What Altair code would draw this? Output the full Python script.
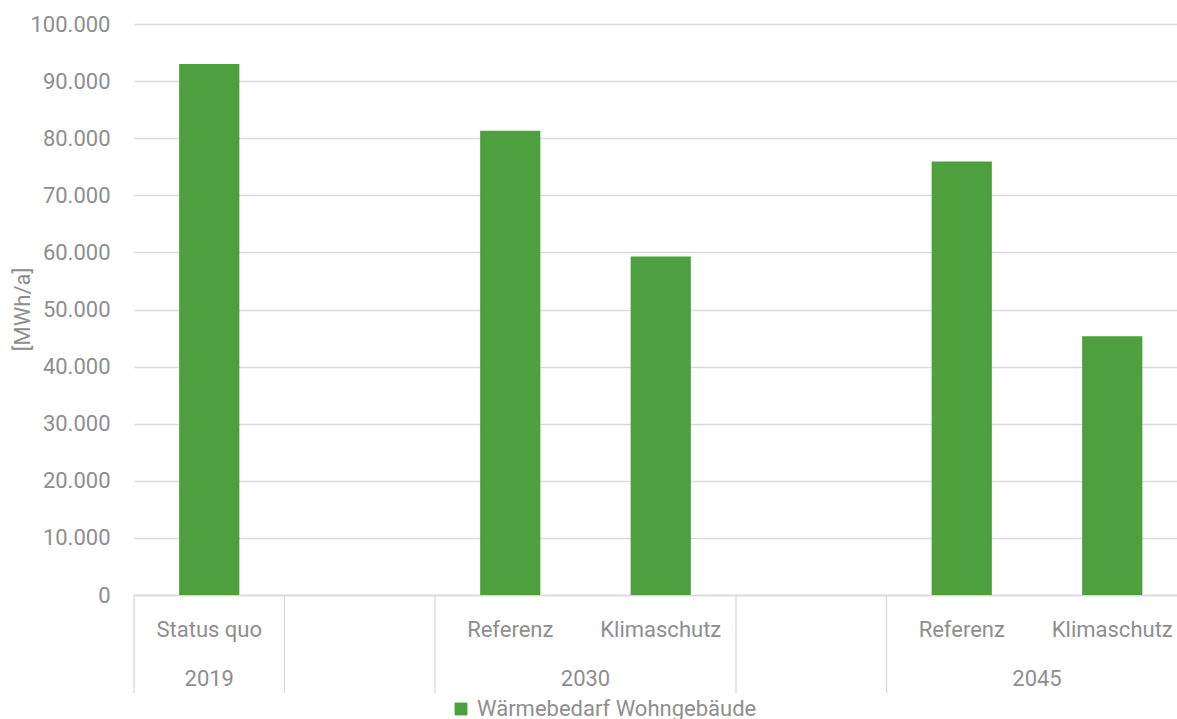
import altair as alt
import pandas as pd

# ---- data ----
categories = ["Status quo", "", "Referenz", "Klimaschutz", "", "Referenz", "Klimaschutz"]
years = ["2019", "", "2030", "2030", "", "2045", "2045"]
values = [93000, None, 81300, 59300, None, 75900, 45300]
series_name = "Wärmebedarf Wohngebäude"

# year groups: label, first slot index, number of slots
year_labels = ["2019", "2030", "2045"]
year_first_slot = [0, 2, 5]
year_span = [1, 2, 2]
group_start_slots = [0, 1, 2, 4, 5]

GREEN = "#4E9F3D"
GRAY_TEXT = "#8e8e8e"
GRID = "#d9d9d9"
FONT = "Roboto"
FS = 22

slots = [f"{i}|{c}" for i, c in enumerate(categories)]
df = pd.DataFrame({"slot": slots, "cat": categories, "year": years, "value": values,
                   "series": series_name})
bars_df = df.dropna(subset=["value"])
cat_df = df[df["cat"] != ""]

years_single = pd.DataFrame({"slot": [slots[s] for s, n in zip(year_first_slot, year_span) if n == 1],
                             "label": [l for l, n in zip(year_labels, year_span) if n == 1]})
years_double = pd.DataFrame({"slot": [slots[s] for s, n in zip(year_first_slot, year_span) if n == 2],
                             "label": [l for l, n in zip(year_labels, year_span) if n == 2]})
sep_df = pd.DataFrame({"slot": [slots[s] for s in group_start_slots]})

W, H = 1043, 571
xscale = alt.Scale(domain=slots, range=[0, 1053.5], paddingInner=0, paddingOuter=0)

xaxis = alt.Axis(title=None, labels=False, ticks=False,
                 domainColor=GRID, domainWidth=1.5, grid=False)
yaxis = alt.Axis(title="[MWh/a]", values=list(range(0, 100001, 10000)),
                 labelExpr="replace(format(datum.value, ','), ',', '.')",
                 ticks=False, domain=False, grid=True, gridColor=GRID, gridWidth=1.3,
                 labelColor=GRAY_TEXT, labelFont=FONT, labelFontSize=FS, labelPadding=24,
                 titleColor=GRAY_TEXT, titleFont=FONT, titleFontSize=FS, titleFontWeight="normal",
                 titleX=-112, titleY=285, titleAngle=270, titleAlign="center",
                 titleBaseline="middle")

bars = alt.Chart(bars_df).mark_bar(width=alt.RelativeBandSize(0.4), color=GREEN).encode(
    x=alt.X("slot:N", scale=xscale, axis=xaxis, sort=slots),
    y=alt.Y("value:Q", scale=alt.Scale(domain=[0, 100000], nice=False), axis=yaxis),
    color=alt.Color("series:N", scale=alt.Scale(domain=[series_name], range=[GREEN]),
                    legend=alt.Legend(title=None, orient="none", legendX=316, legendY=674,
                                      symbolType="square", symbolSize=165,
                                      symbolStrokeWidth=0, labelFont=FONT, labelFontSize=FS,
                                      labelColor=GRAY_TEXT, labelOffset=5, padding=0,
                                      labelLimit=500)),
)

seps = alt.Chart(sep_df).mark_rule(color=GRID, strokeWidth=1.3).encode(
    x=alt.X("slot:N", scale=xscale, sort=slots, bandPosition=0),
    y=alt.value(H),
    y2=alt.value(H + 98),
)

cat_text = alt.Chart(cat_df).mark_text(
    font=FONT, fontSize=FS, color=GRAY_TEXT, baseline="middle").encode(
    x=alt.X("slot:N", scale=xscale, sort=slots, bandPosition=0.5),
    y=alt.value(H + 35),
    text="cat:N",
)

ytext_single = alt.Chart(years_single).mark_text(
    font=FONT, fontSize=FS, color=GRAY_TEXT, baseline="middle").encode(
    x=alt.X("slot:N", scale=xscale, sort=slots, bandPosition=0.5),
    y=alt.value(H + 84),
    text="label:N",
)
ytext_double = alt.Chart(years_double).mark_text(
    font=FONT, fontSize=FS, color=GRAY_TEXT, baseline="middle").encode(
    x=alt.X("slot:N", scale=xscale, sort=slots, bandPosition=1),
    y=alt.value(H + 84),
    text="label:N",
)

chart = alt.layer(bars, seps, cat_text, ytext_single, ytext_double).properties(
    width=W, height=H,
    autosize=alt.AutoSizeParams(type="none"),
    padding={"left": 134, "top": 24, "right": 0, "bottom": 124},
).configure_view(stroke=None)

chart.save("out.html", embed_options={"renderer": "svg", "actions": False})
